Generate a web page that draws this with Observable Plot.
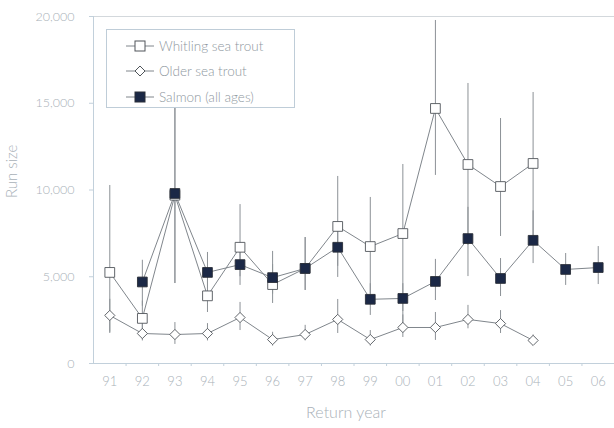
<!DOCTYPE html>
<html><head><meta charset="utf-8">
<script src="https://cdn.jsdelivr.net/npm/d3@7"></script>
<script src="https://cdn.jsdelivr.net/npm/@observablehq/plot@0.6"></script>
<style>
body{margin:0;background:#fff;font-family:Lato,"Open Sans",sans-serif;}
#wrap{position:relative;width:614px;height:428px;}
#legend{position:absolute;left:106px;top:29px;width:189px;height:79px;background:#fff;border:1px solid #bfcdd8;box-sizing:border-box;}
.row{position:absolute;left:19px;height:16px;display:flex;align-items:center;font-size:13.5px;font-weight:300;color:#8e979e;white-space:nowrap;}
.row svg{margin-right:3px;}
</style>
</head><body>
<div id="wrap"></div>
<script>
const years = ["91","92","93","94","95","96","97","98","99","00","01","02","03","04","05","06"];
const seriesNames = ["Whitling sea trout","Older sea trout","Salmon (all ages)"];

const whitling   = [5250, 2600, 9700, 3900, 6700, 4550, 5480, 7900, 6740, 7490, 14700, 11470, 10200, 11530, null, null];
const whitlingLo = [1730, 1700, 4610, 2940, 5000, 3460, 4210, 5600, 4000, 2100, 10840, 6800, 7320, 7000, null, null];
const whitlingHi = [10260, 3600, 17000, 4900, 9160, 5700, 7260, 10780, 9570, 11470, 19770, 16140, 14120, 15620, null, null];

const older   = [2770, 1730, 1670, 1730, 2650, 1380, 1670, 2540, 1380, 2075, 2075, 2540, 2300, 1330, null, null];
const olderLo = [1800, 1300, 1100, 1300, 1900, 1000, 1300, 1730, 1000, 1500, 1330, 2000, 1730, 1100, null, null];
const olderHi = [3700, 2300, 2360, 2300, 3520, 1800, 2200, 3690, 1900, 2800, 2940, 3350, 3050, 1650, null, null];

const salmon   = [null, 4700, 9800, 5250, 5700, 4950, 5480, 6700, 3700, 3750, 4730, 7200, 4900, 7100, 5420, 5530];
const salmonLo = [null, 3300, 4610, 4300, 4500, 4000, 4210, 4960, 2770, 3000, 3630, 5010, 3860, 5760, 4500, 4550];
const salmonHi = [null, 5950, 17000, 6400, 6500, 6460, 7260, 8000, 4600, 4600, 6000, 9000, 6050, 8800, 6340, 6740];

const yTicks = [0, 5000, 10000, 15000, 20000];

function rows(v, lo, hi) {
  return years.map((yr, i) => ({i: i + 0.5, yr, v: v[i], lo: lo[i], hi: hi[i]})).filter(d => d.v != null);
}
const W = rows(whitling, whitlingLo, whitlingHi);
const O = rows(older, olderLo, olderHi);
const S = rows(salmon, salmonLo, salmonHi);

const lineC = "#80868c", errC = "#8c9196", markC = "#50555a", navy = "#1b2846";
const textC = "#a9b1b8", axisC = "#c2d0db";

const chart = Plot.plot({
  width: 614, height: 428,
  marginLeft: 93, marginRight: 0, marginTop: 16, marginBottom: 65,
  style: {fontFamily: "Lato, 'Open Sans', sans-serif", fontSize: "12.5px", fontWeight: 300, color: textC, background: "#fff"},
  x: {type: "linear", domain: [0, years.length]},
  y: {domain: [0, 20000]},
  marks: [
    Plot.ruleY([20000], {stroke: "#d3d8dc", strokeWidth: 1}),
    Plot.ruleX([0], {stroke: axisC, strokeWidth: 1}),
    Plot.ruleY([0], {stroke: axisC, strokeWidth: 1}),
    Plot.axisY({ticks: yTicks, tickFormat: d3.format(","), tickSize: 4, tickPadding: 15, label: null, stroke: axisC, fill: textC}),
    Plot.axisX({ticks: years.map((d, i) => i + 0.5), tickFormat: d => years[Math.floor(d)], tickSize: 0, tickPadding: 13, label: null, fill: textC, fontSize: 13}),
    Plot.axisX({ticks: d3.range(1, years.length), tickFormat: () => "", tickSize: 3, label: null, stroke: axisC}),
    Plot.text(["Run size"], {frameAnchor: "left", rotate: -90, dx: -81, dy: 8, fill: textC, fontSize: 15}),
    Plot.text(["Return year"], {frameAnchor: "bottom", dy: 54, dx: -8, fill: textC, fontSize: 16}),
    // error bars
    Plot.ruleX(O, {x: "i", y1: "lo", y2: "hi", stroke: errC, strokeWidth: 1}),
    Plot.ruleX(W, {x: "i", y1: "lo", y2: "hi", stroke: errC, strokeWidth: 1}),
    Plot.ruleX(S, {x: "i", y1: "lo", y2: "hi", stroke: errC, strokeWidth: 1}),
    // lines
    Plot.line(O, {x: "i", y: "v", stroke: lineC, strokeWidth: 1}),
    Plot.line(W, {x: "i", y: "v", stroke: lineC, strokeWidth: 1}),
    Plot.line(S, {x: "i", y: "v", stroke: lineC, strokeWidth: 1}),
    // markers
    Plot.dot(O, {x: "i", y: "v", symbol: "diamond2", r: 4.6, fill: "#fff", stroke: markC, strokeWidth: 0.9}),
    Plot.dot(W, {x: "i", y: "v", symbol: "square", r: 5.5, fill: "#fff", stroke: markC, strokeWidth: 0.9}),
    Plot.dot(S, {x: "i", y: "v", symbol: "square", r: 5.5, fill: navy, stroke: "#2a2f38", strokeWidth: 0.9})
  ]
});
const wrap = document.getElementById("wrap");
wrap.appendChild(chart);

const legend = document.createElement("div");
legend.id = "legend";
const sym = [
  '<rect x="9" y="3" width="10" height="10" fill="#fff" stroke="' + markC + '"/>',
  '<path d="M14,3 L19,8 L14,13 L9,8 Z" fill="#fff" stroke="' + markC + '"/>',
  '<rect x="9" y="3" width="10" height="10" fill="' + navy + '" stroke="#2a2f38"/>'
];
const tops = [8, 33, 59];
seriesNames.forEach((name, k) => {
  const r = document.createElement("div");
  r.className = "row";
  r.style.top = tops[k] + "px";
  r.innerHTML = '<svg width="30" height="16"><line x1="0" x2="28" y1="8" y2="8" stroke="' + lineC + '"/>' + sym[k] + '</svg><span>' + name + '</span>';
  legend.appendChild(r);
});
wrap.appendChild(legend);
</script>
</body></html>
